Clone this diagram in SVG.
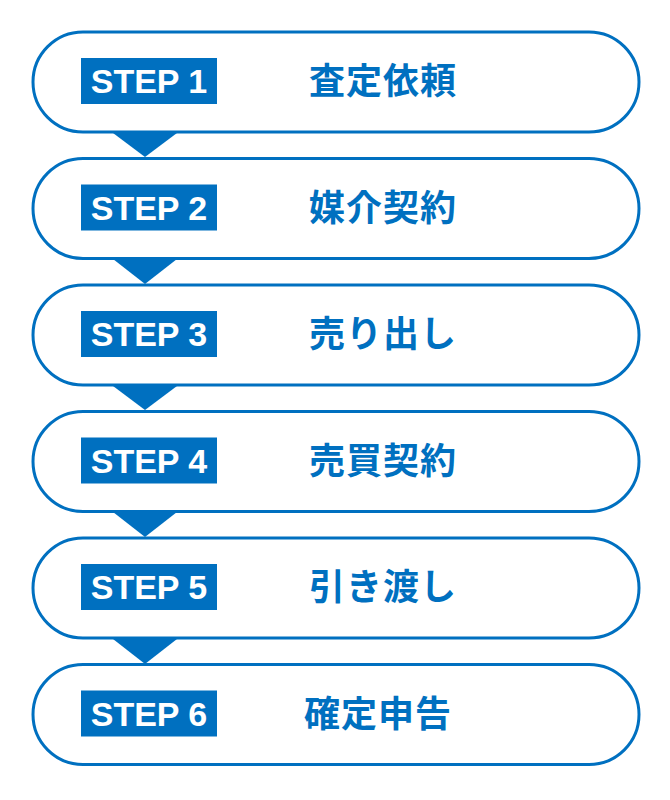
<svg xmlns="http://www.w3.org/2000/svg" width="670" height="800" viewBox="0 0 670 800">
<style>
.box{fill:#fff;stroke:#0070c0;stroke-width:3}
.tag{fill:#0070c0}
.tri{fill:#0070c0}
.st{font-family:"Liberation Sans",Arial,sans-serif;font-weight:bold;font-size:34px;fill:#fff;text-anchor:middle}
.jp{font-family:"Noto Sans CJK JP","Noto Sans CJK SC",sans-serif;font-weight:bold;font-size:36px;fill:#0070c0;text-anchor:middle;letter-spacing:1px}
</style>
<rect width="670" height="800" fill="#fff"/>
<g id="connectors">
<polygon class="tri" points="113,133 177,133 145,157"/>
<polygon class="tri" points="113,259 177,259 145,284"/>
<polygon class="tri" points="113,386 177,386 145,410"/>
<polygon class="tri" points="113,512 177,512 145,537"/>
<polygon class="tri" points="113,639 177,639 145,664"/>
</g>
<g id="step1"><rect class="box" x="33" y="32" width="606" height="100" rx="50"/><rect class="tag" x="81" y="58" width="136" height="46"/><text class="st" x="149" y="93">STEP 1</text><text class="jp" x="383" y="94">査定依頼</text></g>
<g id="step2"><rect class="box" x="33" y="158.5" width="606" height="100" rx="50"/><rect class="tag" x="81" y="184.5" width="136" height="46"/><text class="st" x="149" y="219.5">STEP 2</text><text class="jp" x="383" y="220.5">媒介契約</text></g>
<g id="step3"><rect class="box" x="33" y="285" width="606" height="100" rx="50"/><rect class="tag" x="81" y="311" width="136" height="46"/><text class="st" x="149" y="346">STEP 3</text><text class="jp" x="383" y="347">売り出し</text></g>
<g id="step4"><rect class="box" x="33" y="411.5" width="606" height="100" rx="50"/><rect class="tag" x="81" y="437.5" width="136" height="46"/><text class="st" x="149" y="472.5">STEP 4</text><text class="jp" x="383" y="473.5">売買契約</text></g>
<g id="step5"><rect class="box" x="33" y="538" width="606" height="100" rx="50"/><rect class="tag" x="81" y="564" width="136" height="46"/><text class="st" x="149" y="599">STEP 5</text><text class="jp" x="383" y="600">引き渡し</text></g>
<g id="step6"><rect class="box" x="33" y="664.5" width="606" height="100" rx="50"/><rect class="tag" x="81" y="690.5" width="136" height="46"/><text class="st" x="149" y="725.5">STEP 6</text><text class="jp" x="378" y="726.5">確定申告</text></g>
</svg>
